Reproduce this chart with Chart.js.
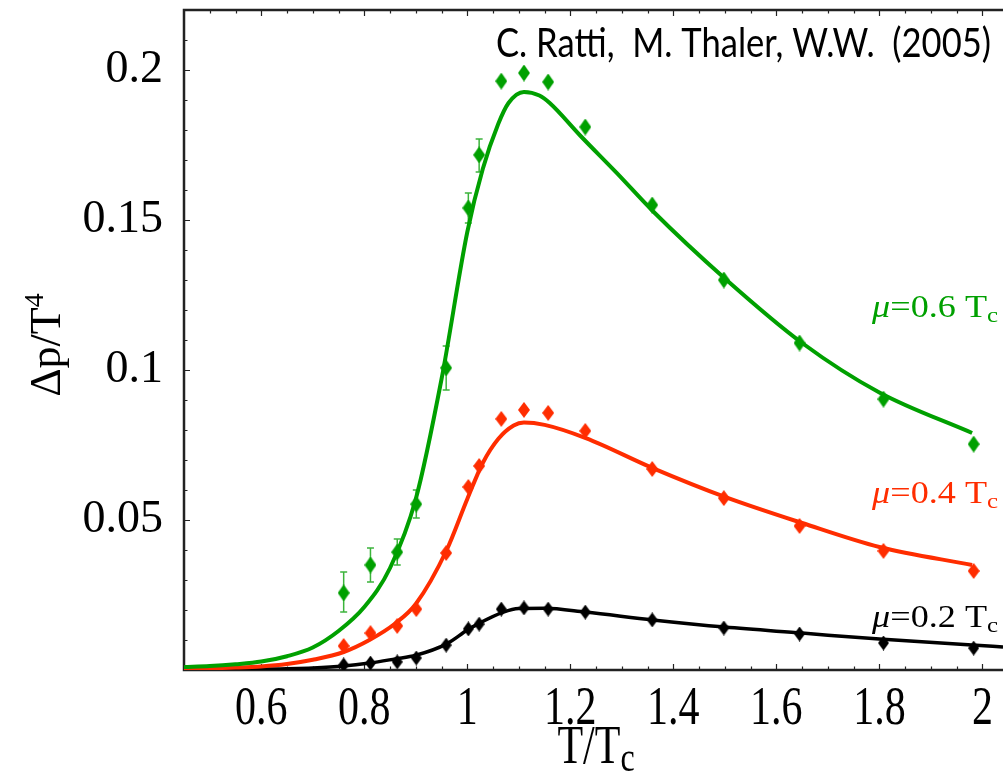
<!DOCTYPE html>
<html>
<head>
<meta charset="utf-8">
<script src="https://cdn.jsdelivr.net/npm/chart.js@4.4.0/dist/chart.umd.min.js"></script>
<style>
  html, body { margin: 0; padding: 0; background: #fff; }
  canvas { display: block; }
</style>
</head>
<body>
<canvas id="chart" width="1003" height="776"></canvas>
<script>
// tick labels
const xTicks = [0.6, 0.8, 1, 1.2, 1.4, 1.6, 1.8, 2];
const yTicks = [0.05, 0.1, 0.15, 0.2];

// lattice points (T/Tc)
const latT = [0.760, 0.812, 0.864, 0.901, 0.959, 1.002, 1.023, 1.066, 1.110, 1.157, 1.229, 1.359, 1.498, 1.645, 1.808, 1.983];
const lat06 = [0.0257, 0.035, 0.0393, 0.0553, 0.1007, 0.154, 0.1717, 0.1963, 0.199, 0.196, 0.181, 0.155, 0.130, 0.109, 0.0903, 0.0753];
const lat04 = [0.008, 0.0123, 0.0147, 0.0203, 0.039, 0.061, 0.068, 0.0837, 0.0867, 0.0857, 0.0797, 0.067, 0.0573, 0.048, 0.0397, 0.033];
const lat02 = [0.0017, 0.0023, 0.0027, 0.004, 0.0083, 0.0137, 0.0153, 0.0203, 0.0207, 0.0203, 0.0193, 0.0167, 0.014, 0.012, 0.009, 0.0073];
// error bars, mu=0.6 only
const err06Hi = [0.0327, 0.0407, 0.0437, 0.060, 0.108, 0.159, 0.177, null, null, null, null, null, null, null, null, null];
const err06Lo = [0.0193, 0.0293, 0.035, 0.0507, 0.0933, 0.149, 0.166, null, null, null, null, null, null, null, null, null];

// model curves
const curveT06 = [0.45, 0.5, 0.55, 0.6, 0.65, 0.7, 0.75, 0.8, 0.85, 0.9, 0.95, 1.0, 1.03, 1.06, 1.08, 1.11, 1.14, 1.16, 1.22, 1.29, 1.36, 1.5, 1.65, 1.8, 1.98];
const curve06 = [0.001, 0.0013, 0.0019, 0.0028, 0.0046, 0.0075, 0.013, 0.021, 0.034, 0.057, 0.097, 0.146, 0.167, 0.182, 0.189, 0.1927, 0.1915, 0.189, 0.178, 0.1657, 0.153, 0.1305, 0.109, 0.0925, 0.079];
const curveT04 = [0.45, 0.55, 0.6, 0.65, 0.7, 0.76, 0.81, 0.86, 0.9, 0.96, 1.0, 1.03, 1.06, 1.09, 1.11, 1.15, 1.23, 1.36, 1.5, 1.65, 1.8, 1.98];
const curve04 = [0.0003, 0.0008, 0.0012, 0.002, 0.0034, 0.006, 0.01, 0.0155, 0.022, 0.04, 0.057, 0.069, 0.077, 0.0815, 0.0825, 0.0817, 0.0773, 0.0673, 0.0577, 0.049, 0.041, 0.035];
const curveT02 = [0.45, 0.6, 0.7, 0.76, 0.81, 0.86, 0.9, 0.96, 1.0, 1.02, 1.07, 1.1, 1.15, 1.23, 1.36, 1.5, 1.65, 1.8, 1.98, 2.04];
const curve02 = [0.0001, 0.0003, 0.0007, 0.0013, 0.0023, 0.0037, 0.0049, 0.0087, 0.0133, 0.0153, 0.0193, 0.0205, 0.0206, 0.0193, 0.0167, 0.0143, 0.0123, 0.0103, 0.0083, 0.0077];

const GREEN = '#00a000', RED = '#ff2d00', BLACK = '#000000';
const SERIF = '"Liberation Serif", "Times New Roman", serif';

function pts(xs, ys) { return xs.map((x, i) => ({x: x, y: ys[i]})); }

function diamond(color, w, h) {
    const c = document.createElement('canvas');
    c.width = w; c.height = h;
    const g = c.getContext('2d');
    g.fillStyle = color;
    g.beginPath();
    g.moveTo(w / 2, 0); g.lineTo(w, h / 2); g.lineTo(w / 2, h); g.lineTo(0, h / 2);
    g.closePath(); g.fill();
    return c;
}

function curve(label, xs, ys, color, width, order) {
    return {label: label, data: pts(xs, ys), borderColor: color, borderWidth: width,
        pointRadius: 0, fill: false, showLine: true, cubicInterpolationMode: 'monotone', order: order};
}
function lattice(label, ys, color, w, h) {
    return {label: label, data: pts(latT, ys), showLine: false, pointStyle: diamond(color, w, h),
        pointRadius: 8, backgroundColor: color, borderColor: color, order: 0};
}

// inward ticks + frame (Mathematica style)
const frame = {
    id: 'frame',
    beforeDatasetsDraw(chart) {
        const {ctx, chartArea: a, scales: {x, y}} = chart;
        ctx.save();
        ctx.strokeStyle = '#222';
        ctx.lineWidth = 1.2;
        ctx.beginPath();
        for (let i = 10; i <= 40; i++) {
            const px = Math.round(x.getPixelForValue(i / 20)) + 0.5;
            const len = i % 4 === 0 ? 6 : 3.5;
            ctx.moveTo(px, a.bottom); ctx.lineTo(px, a.bottom - len);
            ctx.moveTo(px, a.top); ctx.lineTo(px, a.top + len);
        }
        for (let i = 1; i <= 21; i++) {
            const py = Math.round(y.getPixelForValue(i / 100)) + 0.5;
            const len = i % 5 === 0 ? 6 : 3.5;
            ctx.moveTo(a.left, py); ctx.lineTo(a.left + len, py);
        }
        ctx.stroke();
        ctx.lineWidth = 2.5;
        ctx.beginPath();
        ctx.moveTo(a.right, a.top); ctx.lineTo(a.left, a.top); ctx.lineTo(a.left, a.bottom); ctx.lineTo(a.right, a.bottom);
        ctx.stroke();
        ctx.restore();
    }
};

const errorBars = {
    id: 'errorBars',
    beforeDatasetsDraw(chart) {
        const {ctx, scales: {x, y}} = chart;
        ctx.save();
        ctx.strokeStyle = '#3cb43c';
        ctx.lineWidth = 1.5;
        ctx.beginPath();
        latT.forEach((t, i) => {
            if (err06Hi[i] == null) return;
            const px = x.getPixelForValue(t);
            const top = y.getPixelForValue(err06Hi[i]), bot = y.getPixelForValue(err06Lo[i]);
            ctx.moveTo(px, top); ctx.lineTo(px, bot);
            ctx.moveTo(px - 3.5, top); ctx.lineTo(px + 3.5, top);
            ctx.moveTo(px - 3.5, bot); ctx.lineTo(px + 3.5, bot);
        });
        ctx.stroke();
        ctx.restore();
    }
};

function subText(ctx, parts, x, y, align) {
    // parts: [text, font, dy]
    let total = 0;
    parts.forEach(p => { ctx.font = p[1]; total += ctx.measureText(p[0]).width; });
    let cx = align === 'right' ? x - total : align === 'center' ? x - total / 2 : x;
    ctx.textAlign = 'left';
    parts.forEach(p => {
        ctx.font = p[1];
        ctx.fillText(p[0], cx, y + p[2]);
        cx += ctx.measureText(p[0]).width;
    });
}

const labels = {
    id: 'labels',
    afterDraw(chart) {
        const {ctx, chartArea: a, scales: {x, y}} = chart;
        ctx.save();
        ctx.fillStyle = '#000';
        ctx.textBaseline = 'alphabetic';

        // x tick labels (tall, as in the original)
        ctx.font = '42px ' + SERIF;
        ctx.textAlign = 'center';
        xTicks.forEach(v => {
            ctx.save();
            ctx.translate(x.getPixelForValue(v), 724);
            ctx.scale(1, 1.3);
            ctx.fillText(String(v), 0, 0);
            ctx.restore();
        });

        // y tick labels
        ctx.font = '46px ' + SERIF;
        ctx.textAlign = 'right';
        ctx.textBaseline = 'middle';
        yTicks.forEach(v => ctx.fillText(String(v), 163, y.getPixelForValue(v)));
        ctx.textBaseline = 'alphabetic';

        // x title
        ctx.save();
        ctx.translate(596, 763);
        ctx.scale(1, 1.3);
        subText(ctx, [['T/T', '42px ' + SERIF, 0], ['c', '32px ' + SERIF, 6]], 0, 0, 'center');
        ctx.restore();

        // y title
        ctx.save();
        ctx.translate(60, 345);
        ctx.rotate(-Math.PI / 2);
        subText(ctx, [['\u0394p/T', '44px ' + SERIF, 0], ['4', '28px ' + SERIF, -17]], 0, 0, 'center');
        ctx.restore();

        // credit
        ctx.font = '40px Lato, "Open Sans", sans-serif';
        ctx.textAlign = 'right';
        ctx.fillText('C. Ratti,  M. Thaler, W.W.  (2005)', 991, 57, 495);

        // mu labels (wide, as in the original)
        const it = 'italic 32px ' + SERIF, rm = '32px ' + SERIF, sb = '22px ' + SERIF;
        [['0.6', GREEN, 317], ['0.4', RED, 503], ['0.2', BLACK, 627]].forEach(m => {
            ctx.fillStyle = m[1];
            ctx.save();
            ctx.translate(998, m[2]);
            ctx.scale(1.13, 1);
            subText(ctx, [['\u03bc', it, 0], ['=' + m[0] + ' T', rm, 0], ['c', sb, 5]], 0, 0, 'right');
            ctx.restore();
        });
        ctx.restore();
    }
};

new Chart(document.getElementById('chart').getContext('2d'), {
    type: 'scatter',
    data: {
        datasets: [
            lattice('lattice 0.6', lat06, GREEN, 12, 17),
            lattice('lattice 0.4', lat04, RED, 12, 16),
            lattice('lattice 0.2', lat02, BLACK, 11, 15),
            curve('model 0.6', curveT06, curve06, GREEN, 4, 1),
            curve('model 0.4', curveT04, curve04, RED, 4, 2),
            curve('model 0.2', curveT02, curve02, BLACK, 3.5, 3)
        ]
    },
    options: {
        responsive: false,
        devicePixelRatio: 1,
        animation: false,
        layout: {autoPadding: false, padding: {top: 10, right: 0, left: 0, bottom: 0}},
        plugins: {legend: {display: false}, tooltip: {enabled: false}},
        scales: {
            x: {
                type: 'linear', min: 0.45, max: 2.04,
                grid: {display: false, drawTicks: false}, border: {display: false},
                ticks: {display: false},
                afterFit: s => { s.height = 106; }
            },
            y: {
                type: 'linear', min: 0, max: 0.22,
                grid: {display: false, drawTicks: false}, border: {display: false},
                ticks: {display: false},
                afterFit: s => { s.width = 184; }
            }
        }
    },
    plugins: [frame, errorBars, labels]
});
</script>
</body>
</html>
